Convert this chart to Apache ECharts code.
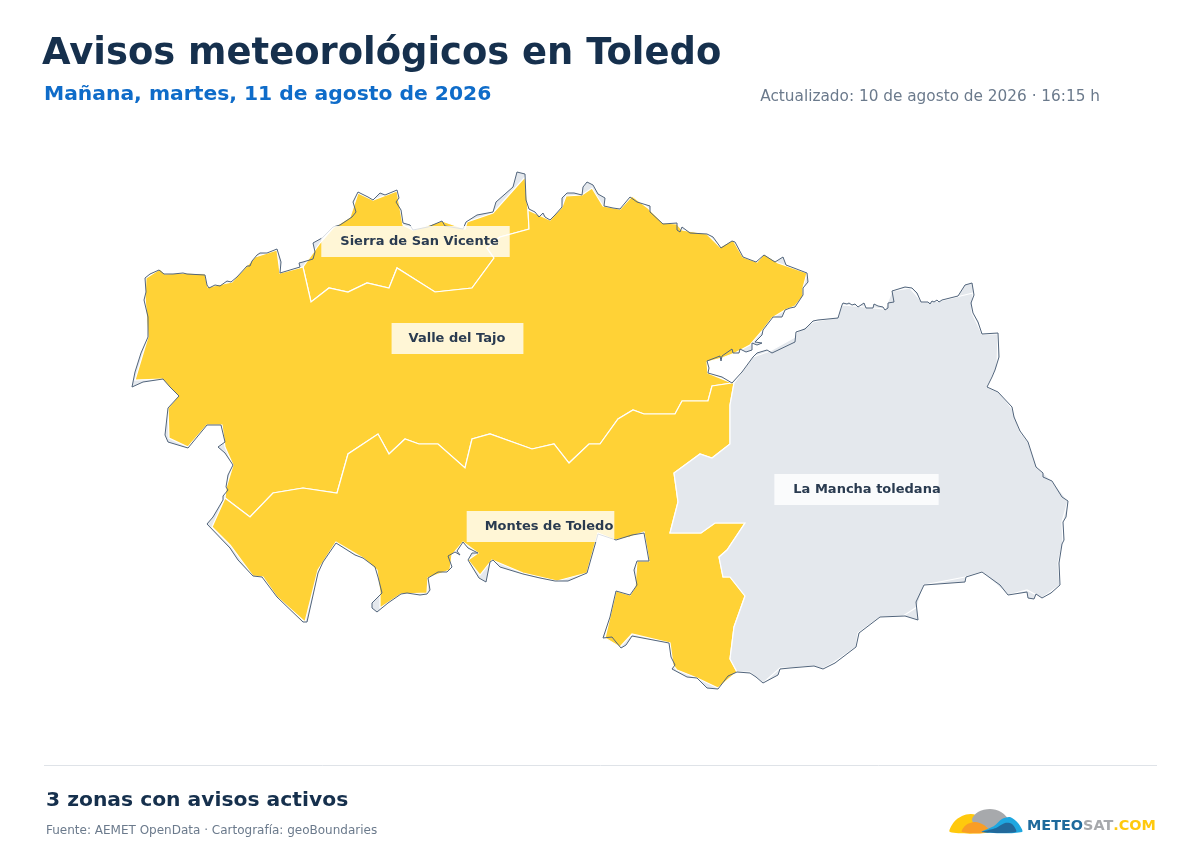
<!DOCTYPE html>
<html>
<head>
<meta charset="utf-8">
<title>Avisos meteorológicos en Toledo</title>
<script src="https://cdn.jsdelivr.net/npm/echarts@6/dist/echarts.min.js"></script>
<style>
  html, body { margin: 0; background: #fff; }
  #chart { width: 1200px; height: 850px; }
</style>
</head>
<body>
<div id="chart"></div>
<script>
// zonas de aviso
const zoneNames = ['Sierra de San Vicente', 'Valle del Tajo', 'Montes de Toledo', 'La Mancha toledana'];
const zoneLevels = ['amarillo', 'amarillo', 'amarillo', 'sin aviso'];

// contorno detallado de la provincia (unidades de mapa)
const provinceOutline = [
  [132,387],[135,372],[141,353],[148,337],[148,317],[144,300],[146,292],[145,278],[150,274],[159,270],[164,274],[173,274],[183,273],[187,274],[205,275],[207,285],[209,288],[215,285],[220,286],[227,281],[231,282],[237,277],[247,266],[250,266],[252,261],[257,255],[260,253],[267,253],[277,249],[281,262],[280,273],[300,267],[299,263],[303,262],[313,259],[315,252],[313,243],[322,238],[333,227],[340,225],[352,217],[356,212],[353,202],[358,192],[368,197],[373,200],[380,193],[385,195],[397,190],[399,198],[396,202],[401,210],[403,223],[410,225],[413,230],[428,227],[442,221],[445,226],[463,229],[466,222],[477,215],[493,212],[496,202],[513,187],[517,172],[525,174],[526,200],[529,209],
  [535,212],[539,217],[543,213],[545,217],[550,220],[555,215],[562,207],[562,198],[567,193],[574,193],[582,195],[583,187],[587,182],[593,185],[598,194],[605,198],[604,206],[613,208],[620,209],[625,203],[630,197],[637,202],[650,206],[650,212],[663,224],[677,223],[677,230],[680,232],[682,227],[690,233],[707,234],[713,237],[721,248],[732,241],[735,242],[743,257],[756,262],[764,255],[775,262],[783,257],[786,265],[807,273],[808,282],[803,288],[803,295],[795,307],[790,308],[785,310],[782,317],[773,317],[763,330],[762,335],[755,342],[762,343],[757,345],[752,343],[752,350],[746,352],[740,349],[739,353],[733,353],[732,349],[722,356],[721,361],[720,356],[707,361],[709,368],[708,373],[722,377],[732,383],
  [733,383],[742,372],[753,357],[757,353],[767,350],[772,353],[795,342],[796,332],[805,329],[813,321],[818,320],[838,318],[842,305],[843,303],[847,304],[849,303],[852,305],[855,304],[858,307],[864,303],[866,308],[873,308],[874,304],[878,306],[883,307],[885,310],[888,308],[888,303],[894,302],[892,291],[905,287],[912,288],[917,293],[921,302],[928,302],[930,304],[932,301],[934,302],[937,300],[939,302],[942,300],[943,301],[958,296],[965,285],[972,283],[974,295],[971,303],[973,313],[978,322],[982,334],[998,333],[999,357],[995,370],[992,377],[987,387],[998,392],[1012,407],[1014,417],[1020,431],[1028,442],[1036,467],[1043,473],[1043,477],[1052,481],[1062,497],[1068,501],[1066,517],[1063,522],[1064,540],[1062,544],[1059,563],[1060,585],[1051,593],[1042,598],[1036,594],[1034,599],[1028,598],[1027,592],[1008,595],[1000,585],[982,572],[966,577],[965,582],[924,585],[916,602],[918,620],[905,616],[880,617],[859,633],[856,647],[835,663],[823,669],[814,666],[790,668],[780,669],[778,675],[763,683],[756,677],[750,673],[737,672],
  [728,676],[718,689],[707,688],[697,678],[687,677],[672,669],[675,665],[671,657],[669,643],[632,636],[626,645],[621,648],[616,642],[612,637],[603,638],[610,617],[616,591],[630,595],[637,585],[634,570],[637,561],[649,561],[644,533],[632,535],[616,540],[598,534],[587,573],[568,581],[555,581],[540,578],[523,574],[500,567],[493,560],[490,562],[486,582],[479,578],[468,560],[472,553],[478,553],[468,548],[463,542],[457,551],[460,555],[455,552],[448,556],[452,567],[447,572],[438,572],[428,578],[430,590],[427,594],[420,595],[407,593],[401,594],[388,603],[377,612],[372,608],[372,603],[382,593],[378,577],[375,567],[363,558],[355,555],[336,543],[323,562],[318,573],[307,622],[303,622],[277,597],[262,577],[253,576],[238,560],[230,548],[207,524],[213,517],[223,500],[223,496],[228,490],[226,487],[228,475],[233,465],[225,453],[218,447],[225,442],[221,425],[207,425],[188,448],[168,442],[165,435],[168,408],[179,396],[170,387],[163,379],[143,382]
];

// bordes simplificados de las zonas
const valleWest = [
  [225,498],[226,488],[233,465],[225,447],[222,425],[207,425],[188,447],[169,438],[168,408],[178,396],[162,379],[135,380],[148,337],[145,297],[146,278],[160,269],[165,274],[185,273],[205,274],[208,287],[232,282],[255,257],[277,250],[280,273],[303,267]
];
const sierraValleBorder = [
  [303,267],[311,302],[329,288],[348,292],[367,283],[389,288],[397,268],[435,292],[472,288],[494,258],[487,248],[500,237],[529,229],[528,210]
];
const sierraNorth = [
  [303,267],[320,243],[333,228],[350,217],[358,193],[373,200],[397,191],[403,225],[413,230],[442,221],[465,229],[467,222],[493,213],[525,177],[528,210]
];
const valleNorthEast = [
  [528,210],[550,220],[562,207],[566,196],[582,195],[592,188],[603,206],[620,209],[632,196],[648,208],[663,223],[677,224],[682,230],[707,234],[720,247],[733,240],[743,257],[757,262],[764,254],[778,263],[807,273],[803,288],[803,296],[795,306],[785,310],[772,318],[762,331],[750,345],[735,353],[722,358],[707,362],[708,373],[732,383]
];
const valleMontesBorder = [
  [732,383],[712,386],[708,401],[682,401],[675,414],[644,414],[633,410],[618,419],[600,444],[589,444],[569,463],[554,444],[532,449],[490,434],[472,439],[465,468],[438,444],[419,444],[405,439],[389,454],[378,434],[348,454],[337,493],[303,488],[273,493],[250,517],[225,498]
];
const montesSouth = [
  [225,498],[212,527],[230,545],[253,576],[263,577],[277,597],[305,622],[318,570],[336,542],[363,558],[377,570],[380,593],[380,608],[401,594],[427,593],[428,578],[450,570],[452,555],[463,542],[478,553],[468,560],[480,575],[492,560],[523,573],[557,581],[587,573],[598,533],[615,540],[630,537],[644,532],[649,561],[637,561],[635,587],[630,595],[616,591],[605,638],[620,647],[632,634],[670,643],[673,665],[677,670],[697,678],[718,688],[737,672]
];
const montesManchaBorder = [
  [737,672],[730,659],[734,627],[745,596],[730,577],[723,577],[719,557],[727,550],[745,523],[715,523],[701,533],[670,533],[678,502],[674,473],[700,454],[712,458],[730,444],[730,405],[734,383]
];
const manchaEdge = [
  [734,383],[753,357],[770,351],[795,337],[797,332],[813,322],[838,317],[842,305],[865,307],[885,309],[892,291],[910,288],[922,302],[940,301],[973,293],[972,313],[982,334],[998,334],[997,367],[987,387],[1000,393],[1013,410],[1020,432],[1028,442],[1037,467],[1052,481],[1068,501],[1062,522],[1063,543],[1058,563],[1060,585],[1042,598],[1027,590],[1008,595],[982,572],[965,577],[924,585],[917,607],[903,616],[880,617],[858,633],[856,647],[833,663],[822,669],[813,666],[790,668],[780,668],[763,683],[755,677],[750,672],[737,672]
];

const labelAnchors = [[415.5,241.5],[457.5,338.5],[540.5,526.5],[856.5,489.5]];

function rev(a) { return a.slice().reverse(); }

const zoneRings = [
  sierraNorth.concat(rev(sierraValleBorder)),
  valleWest.concat(sierraValleBorder, valleNorthEast, valleMontesBorder),
  valleMontesBorder.concat(montesSouth, montesManchaBorder),
  manchaEdge.concat(montesManchaBorder)
];

function featureCollection(names, rings) {
  return {
    type: 'FeatureCollection',
    features: names.map(function (name, i) {
      return {
        type: 'Feature',
        properties: { name: name, cp: labelAnchors[i] },
        geometry: { type: 'Polygon', coordinates: [rings[i]] }
      };
    })
  };
}

const zonesGeo = featureCollection(zoneNames, zoneRings);
const provinceGeo = {
  type: 'FeatureCollection',
  features: [{
    type: 'Feature',
    properties: { name: 'Toledo' },
    geometry: { type: 'Polygon', coordinates: [provinceOutline] }
  }]
};

// cada serie map necesita su propio nombre, si no ECharts las fusiona
echarts.registerMap('toledo-fondo', provinceGeo);
echarts.registerMap('toledo-zonas', zonesGeo);
echarts.registerMap('toledo-borde', JSON.parse(JSON.stringify(provinceGeo)));
echarts.registerMap('toledo-etiquetas', JSON.parse(JSON.stringify(zonesGeo)));

const levelColors = { amarillo: '#ffd236', 'sin aviso': '#e4e8ed' };
const labelPaddings = [[9, 11, 9, 19], [9, 18, 9, 17], [9, 1, 9, 18], [9, -2, 9, 19]];

const flatProjection = {
  project: function (p) { return p; },
  unproject: function (p) { return p; }
};

function mapLayer(map, z, extra) {
  return Object.assign({
    type: 'map',
    map: map,
    z: z,
    silent: true,
    selectedMode: false,
    projection: flatProjection,
    aspectScale: 1,
    boundingCoords: [[0, 0], [1200, 850]],
    left: 0,
    top: 0,
    width: 1200,
    height: 850,
    roam: false,
    label: { show: false }
  }, extra);
}

function logoShape(points, fill) {
  return { type: 'polygon', silent: true, shape: { points: points, smooth: 0.3 }, style: { fill: fill } };
}

const chart = echarts.init(document.getElementById('chart'));
const baseFont = 'DejaVu Sans';

const option = {
  animation: false,
  backgroundColor: '#fff',
  title: [
    { text: 'Avisos meteorológicos en Toledo', left: 37, top: 31,
      textStyle: { fontFamily: baseFont, fontSize: 36.9, fontWeight: 'bold', color: '#16304d' } },
    { text: 'Mañana, martes, 11 de agosto de 2026', left: 39, top: 80,
      textStyle: { fontFamily: baseFont, fontSize: 20.3, fontWeight: 'bold', color: '#0f6cc9' } },
    { text: 'Actualizado: 10 de agosto de 2026 · 16:15 h', right: 95, top: 85,
      textStyle: { fontFamily: baseFont, fontSize: 15.3, fontWeight: 'normal', color: '#6b7a8c' } },
    { text: '3 zonas con avisos activos', left: 41, top: 786,
      textStyle: { fontFamily: baseFont, fontSize: 20.3, fontWeight: 'bold', color: '#16304d' } },
    { text: 'Fuente: AEMET OpenData · Cartografía: geoBoundaries', left: 41, top: 820,
      textStyle: { fontFamily: baseFont, fontSize: 12, fontWeight: 'normal', color: '#6b7a8c' } }
  ],
  graphic: [
    { type: 'line', silent: true, shape: { x1: 44, y1: 765.5, x2: 1157, y2: 765.5 }, style: { stroke: '#dfe3e8', lineWidth: 1 } },
    // logo
    logoShape([[950,832],[954,822],[962,816],[971,814],[981,817],[988,824],[992,832]], '#ffc90d'),
    logoShape([[972,820],[978,812],[990,809],[1001,812],[1008,820],[1000,828],[980,828]], '#a7a9ac'),
    logoShape([[962,832],[966,825],[975,822],[984,825],[990,832]], '#f99d25'),
    logoShape([[982,832],[994,826],[1002,819],[1010,817],[1018,823],[1022,832]], '#1fa7e0'),
    logoShape([[982,832],[996,828],[1005,823],[1012,824],[1016,832]], '#22699b'),
    { type: 'text', silent: true, x: 1027, y: 819,
      style: { text: '{a|METEO}{b|SAT}{c|.COM}', rich: {
        a: { fontFamily: baseFont, fontSize: 14.4, fontWeight: 'bold', fill: '#1f6a9c', color: '#1f6a9c' },
        b: { fontFamily: baseFont, fontSize: 14.4, fontWeight: 'bold', fill: '#a7a9ac', color: '#a7a9ac' },
        c: { fontFamily: baseFont, fontSize: 14.4, fontWeight: 'bold', fill: '#ffc90d', color: '#ffc90d' }
      } } }
  ],
  series: [
    mapLayer('toledo-fondo', 1, {
      data: [{ name: 'Toledo', itemStyle: { areaColor: '#e4e8ed', borderWidth: 0 } }]
    }),
    mapLayer('toledo-zonas', 2, {
      itemStyle: { borderColor: '#fff', borderWidth: 1.2 },
      data: zoneNames.map(function (name, i) {
        return { name: name, itemStyle: { areaColor: levelColors[zoneLevels[i]] } };
      })
    }),
    mapLayer('toledo-borde', 3, {
      itemStyle: { areaColor: 'transparent', borderColor: '#52657c', borderWidth: 1 },
      data: [{ name: 'Toledo' }]
    }),
    mapLayer('toledo-etiquetas', 4, {
      itemStyle: { areaColor: 'transparent', borderWidth: 0 },
      label: {
        show: true,
        fontFamily: baseFont,
        fontSize: 13,
        fontWeight: 'bold',
        color: '#2a3b50',
        backgroundColor: 'rgba(255,255,255,0.8)'
      },
      data: zoneNames.map(function (name, i) {
        return { name: name, label: { padding: labelPaddings[i] } };
      })
    })
  ]
};

chart.setOption(option);
</script>
</body>
</html>
